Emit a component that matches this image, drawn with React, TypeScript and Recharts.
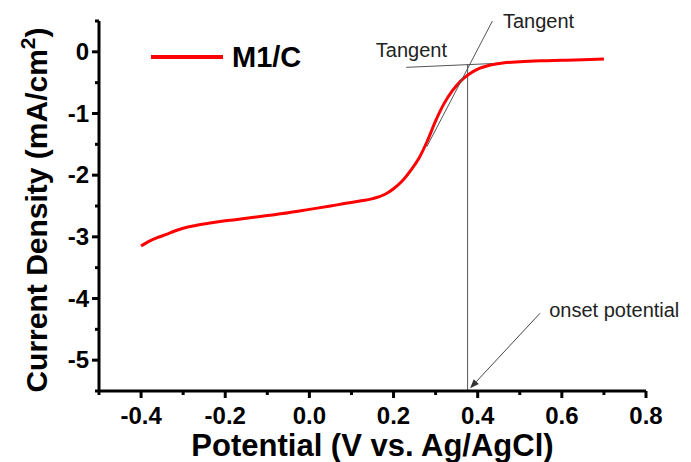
import React from "react";
import { LineChart, Line, XAxis, YAxis, ReferenceLine, ReferenceDot, Legend } from "recharts";

// LSV curve
const potential = [
  -0.4, -0.38, -0.36, -0.34, -0.32, -0.3, -0.27, -0.24, -0.2, -0.15, -0.1, -0.05, 0.0, 0.05, 0.08, 0.12,
  0.15, 0.18, 0.2, 0.22, 0.24, 0.26, 0.28, 0.3, 0.32, 0.34, 0.36, 0.38, 0.4, 0.43, 0.46, 0.5, 0.55, 0.6,
  0.65, 0.7,
];
const currentDensity = [
  -3.15, -3.07, -3.01, -2.96, -2.905, -2.86, -2.815, -2.78, -2.74, -2.7, -2.655, -2.61, -2.555, -2.5, -2.465,
  -2.42, -2.38, -2.31, -2.22, -2.1, -1.93, -1.73, -1.45, -1.12, -0.84, -0.63, -0.47, -0.36, -0.28, -0.215,
  -0.18, -0.16, -0.145, -0.137, -0.128, -0.115,
];

const xTicks = [-0.5, -0.4, -0.3, -0.2, -0.1, 0, 0.1, 0.2, 0.3, 0.4, 0.5, 0.6, 0.7, 0.8];
const xTickLabels = ["", "-0.4", "", "-0.2", "", "0.0", "", "0.2", "", "0.4", "", "0.6", "", "0.8"];
const yTicks = [0.5, 0, -0.5, -1, -1.5, -2, -2.5, -3, -3.5, -4, -4.5, -5, -5.5];
const yTickLabels = ["", "0", "", "-1", "", "-2", "", "-3", "", "-4", "", "-5", ""];

// annotation anchors, in data units
const horizTangent = [
  { x: 0.23, y: -0.252 },
  { x: 0.5, y: -0.17 },
];
const steepTangent = [
  { x: 0.279, y: -1.54 },
  { x: 0.435, y: 0.5 },
];
const onsetX = 0.376;
const onsetTop = -0.197;
const arrow = [
  { x: 0.548, y: -4.24 },
  { x: 0.382, y: -5.456 },
];
const notes = [
  { text: "Tangent", x: 0.46, y: 0.386 },
  { text: "Tangent", x: 0.158, y: -0.079 },
  { text: "onset potential", x: 0.57, y: -4.3 },
];

const data = potential.map((x, i) => ({ x, j: currentDensity[i] }));

const FONT = "Arial, 'Liberation Sans', sans-serif";

const XTick = (props: any) => {
  const { x, y, index } = props;
  const label = xTickLabels[index] ?? "";
  const major = label !== "";
  return (
    <g>
      <line x1={x} y1={y} x2={x} y2={y + (major ? 7 : 4)} stroke="#000" strokeWidth={3} />
      {major && (
        <text x={x} y={y + 33} textAnchor="middle" fontFamily={FONT} fontWeight="bold" fontSize={24} fill="#000">
          {label}
        </text>
      )}
    </g>
  );
};

const YTick = (props: any) => {
  const { x, y, index } = props;
  const label = yTickLabels[index] ?? "";
  const major = label !== "";
  return (
    <g>
      <line x1={x - (major ? 7 : 4)} y1={y} x2={x} y2={y} stroke="#000" strokeWidth={3} />
      {major && (
        <text x={x - 10} y={y + 8} textAnchor="end" fontFamily={FONT} fontWeight="bold" fontSize={24} fill="#000">
          {label}
        </text>
      )}
    </g>
  );
};

const ArrowShape = (props: any) => {
  const { x1, y1, x2, y2 } = props;
  const a = Math.atan2(y2 - y1, x2 - x1);
  const len = 9;
  const w = 3.5;
  const bx = x2 - len * Math.cos(a);
  const by = y2 - len * Math.sin(a);
  const px = -Math.sin(a) * w;
  const py = Math.cos(a) * w;
  return (
    <g>
      <line x1={x1} y1={y1} x2={bx} y2={by} stroke="#444" strokeWidth={1} />
      <polygon points={`${x2},${y2} ${bx + px},${by + py} ${bx - px},${by - py}`} fill="#333" />
    </g>
  );
};

const LegendBox = () => (
  <div style={{ position: "relative", width: 200, height: 0 }}>
    <div style={{ position: "absolute", left: 0, top: 15, width: 72, height: 4, background: "#ff0000" }} />
    <div
      style={{
        position: "absolute",
        left: 81,
        top: 0,
        fontFamily: FONT,
        fontWeight: "bold",
        fontSize: 29,
        lineHeight: "34px",
        color: "#000",
      }}
    >
      M1/C
    </div>
  </div>
);

export default function App() {
  return (
    <div style={{ position: "absolute", left: 0, top: 0, background: "#fff" }}>
      <LineChart width={691} height={462} data={data} margin={{ top: 21, right: 45, bottom: 41, left: 39 }}>
        <XAxis
          dataKey="x"
          type="number"
          domain={[-0.5, 0.8]}
          ticks={xTicks}
          interval={0}
          height={30}
          tickSize={0}
          tickMargin={0}
          tickLine={false}
          axisLine={{ stroke: "#000", strokeWidth: 3 }}
          tick={<XTick />}
          allowDataOverflow
          label={{
            content: (p: any) => {
              const vb = p.viewBox;
              return (
                <text
                  x={vb.x + vb.width / 2}
                  y={vb.y + 65}
                  textAnchor="middle"
                  fontFamily={FONT}
                  fontWeight="bold"
                  fontSize={31}
                  fill="#000"
                >
                  Potential (V vs. Ag/AgCl)
                </text>
              );
            },
          }}
        />
        <YAxis
          type="number"
          domain={[-5.5, 0.5]}
          ticks={yTicks}
          interval={0}
          width={60}
          tickSize={0}
          tickMargin={0}
          tickLine={false}
          axisLine={{ stroke: "#000", strokeWidth: 3 }}
          tick={<YTick />}
          allowDataOverflow
          label={{
            content: (p: any) => {
              const vb = p.viewBox;
              const cx = vb.x + 8;
              const cy = vb.y + 189;
              return (
                <text
                  transform={`translate(${cx},${cy}) rotate(-90)`}
                  textAnchor="middle"
                  fontFamily={FONT}
                  fontWeight="bold"
                  fontSize={30}
                  fill="#000"
                >
                  Current Density (mA/cm
                  <tspan fontSize={21} dy={-12}>
                    2
                  </tspan>
                  <tspan dy={12}>)</tspan>
                </text>
              );
            },
          }}
        />
        <Legend
          verticalAlign="middle"
          align="center"
          layout="horizontal"
          wrapperStyle={{ left: 151, top: 40, width: 200, height: 0 }}
          content={() => <LegendBox />}
        />
        <ReferenceLine
          segment={horizTangent}
          stroke="#555"
          strokeWidth={1}
          ifOverflow="visible"
        />
        <ReferenceLine
          segment={[
            { x: onsetX, y: onsetTop },
            { x: onsetX, y: -5.5 },
          ]}
          stroke="#555"
          strokeWidth={1}
          ifOverflow="visible"
        />
        <Line
          type="monotone"
          dataKey="j"
          name="M1/C"
          stroke="#ff0000"
          strokeWidth={3}
          dot={false}
          isAnimationActive={false}
        />
        <ReferenceLine segment={steepTangent} stroke="#555" strokeWidth={1} ifOverflow="visible" />
        <ReferenceLine segment={arrow} ifOverflow="visible" shape={(p: any) => <ArrowShape {...p} />} />
        {notes.map((n, i) => (
          <ReferenceDot
            key={i}
            x={n.x}
            y={n.y}
            r={0}
            ifOverflow="visible"
            shape={(p: any) => (
              <text x={p.cx} y={p.cy} fontFamily={FONT} fontSize={20} fill="#222">
                {n.text}
              </text>
            )}
          />
        ))}
      </LineChart>
    </div>
  );
}
